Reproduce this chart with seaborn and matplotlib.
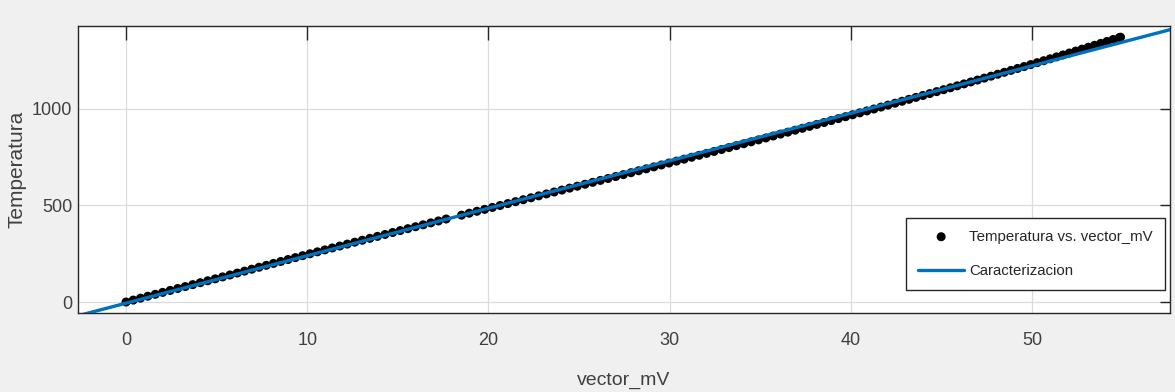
import numpy as np
import pandas as pd
import matplotlib
matplotlib.use("Agg")
import matplotlib.pyplot as plt
import seaborn as sns

# Type K thermocouple table (10 degC steps; 440 degC missing)
temperatura = [0, 10, 20, 30, 40, 50, 60, 70, 80, 90, 100, 110, 120, 130, 140, 150,
               160, 170, 180, 190, 200, 210, 220, 230, 240, 250, 260, 270, 280, 290,
               300, 310, 320, 330, 340, 350, 360, 370, 380, 390, 400, 410, 420, 430,
               450, 460, 470, 480, 490, 500, 510, 520, 530, 540, 550, 560, 570,
               580, 590, 600, 610, 620, 630, 640, 650, 660, 670, 680, 690, 700, 710,
               720, 730, 740, 750, 760, 770, 780, 790, 800, 810, 820, 830, 840, 850,
               860, 870, 880, 890, 900, 910, 920, 930, 940, 950, 960, 970, 980, 990,
               1000, 1010, 1020, 1030, 1040, 1050, 1060, 1070, 1080, 1090, 1100, 1110,
               1120, 1130, 1140, 1150, 1160, 1170, 1180, 1190, 1200, 1210, 1220, 1230,
               1240, 1250, 1260, 1270, 1280, 1290, 1300, 1310, 1320, 1330, 1340, 1350,
               1360, 1370, 1372]
vector_mV = [0.000, 0.397, 0.798, 1.203, 1.612, 2.023, 2.436, 2.851, 3.267, 3.682, 4.096,
             4.509, 4.920, 5.328, 5.735, 6.138, 6.540, 6.941, 7.340, 7.739, 8.138, 8.539,
             8.940, 9.343, 9.747, 10.153, 10.561, 10.971, 11.382, 11.795, 12.209, 12.624,
             13.040, 13.457, 13.874, 14.293, 14.713, 15.133, 15.554, 15.975, 16.397,
             16.820, 17.243, 17.667, 18.516, 18.941, 19.366, 19.792, 20.218,
             20.644, 21.071, 21.497, 21.924, 22.350, 22.776, 23.203, 23.629, 24.055,
             24.480, 24.905, 25.330, 25.755, 26.179, 26.602, 27.025, 27.447, 27.869,
             28.289, 28.710, 29.129, 29.548, 29.965, 30.382, 30.798, 31.213, 31.628,
             32.041, 32.453, 32.865, 33.275, 33.685, 34.093, 34.501, 34.908, 35.313,
             35.718, 36.121, 36.524, 36.925, 37.326, 37.725, 38.124, 38.522, 38.918,
             39.314, 39.708, 40.101, 40.494, 40.885, 41.276, 41.665, 42.053, 42.440,
             42.826, 43.211, 43.595, 43.978, 44.359, 44.740, 45.119, 45.497, 45.873,
             46.249, 46.623, 46.995, 47.367, 47.737, 48.105, 48.473, 48.838, 49.202,
             49.565, 49.926, 50.286, 50.644, 51.000, 51.355, 51.708, 52.060, 52.410,
             52.759, 53.106, 53.451, 53.795, 54.138, 54.479, 54.819, 54.886]

x_ticks = [0, 10, 20, 30, 40, 50]
y_ticks = [0, 500, 1000]
x_limits = [-2.65, 57.6]
y_limits = [-57, 1430]

data = pd.DataFrame({"vector_mV": vector_mV, "Temperatura": temperatura})

# Linear characterization (least squares fit) evaluated over the axis range
p = np.polyfit(data["vector_mV"], data["Temperatura"], 1)
fit_x = np.linspace(x_limits[0], x_limits[1], 200)
fit = pd.DataFrame({"x": fit_x, "y": np.polyval(p, fit_x)})

sns.set_theme(style="whitegrid")
plt.rcParams["font.family"] = ["Liberation Sans", "DejaVu Sans"]

fig = plt.figure(figsize=(11.75, 3.92), dpi=100, facecolor="#f0f0f0")
ax = fig.add_axes([0.0664, 0.2015, 0.9291, 0.7322])
ax.set_facecolor("white")

sns.scatterplot(data=data, x="vector_mV", y="Temperatura", ax=ax, color="black",
                s=42, edgecolor="none", label="Temperatura vs. vector_mV", zorder=3)
sns.lineplot(data=fit, x="x", y="y", ax=ax, color="#0072BD", linewidth=2.4,
             label="Caracterizacion", zorder=4)

ax.set_xlim(*x_limits)
ax.set_ylim(*y_limits)
ax.set_xticks(x_ticks)
ax.set_yticks(y_ticks)
ax.grid(True, color="#dcdcdc", linewidth=0.9)
for s in ax.spines.values():
    s.set_color("#262626")
    s.set_linewidth(1.0)
ax.tick_params(axis="both", direction="in", colors="#262626", labelcolor="#404040",
               labelsize=13, top=True, right=True)
ax.tick_params(axis="x", length=10, width=1.0, pad=14)
ax.tick_params(axis="y", length=7, width=1.0, pad=4)

ax.set_xlabel("vector_mV", fontsize=14, color="#404040", labelpad=16)
ax.set_ylabel("Temperatura", fontsize=15, color="#404040", labelpad=4)

leg = ax.legend(loc="lower right", fontsize=10.8, frameon=True, fancybox=False,
                edgecolor="#262626", framealpha=1, borderpad=0.8, labelspacing=1.35,
                handlelength=3.1, handletextpad=0.3, borderaxespad=0.2,
                bbox_to_anchor=(0.998, 0.07))
leg.get_frame().set_linewidth(1.0)

fig.savefig("out.png", dpi=100, facecolor=fig.get_facecolor())
